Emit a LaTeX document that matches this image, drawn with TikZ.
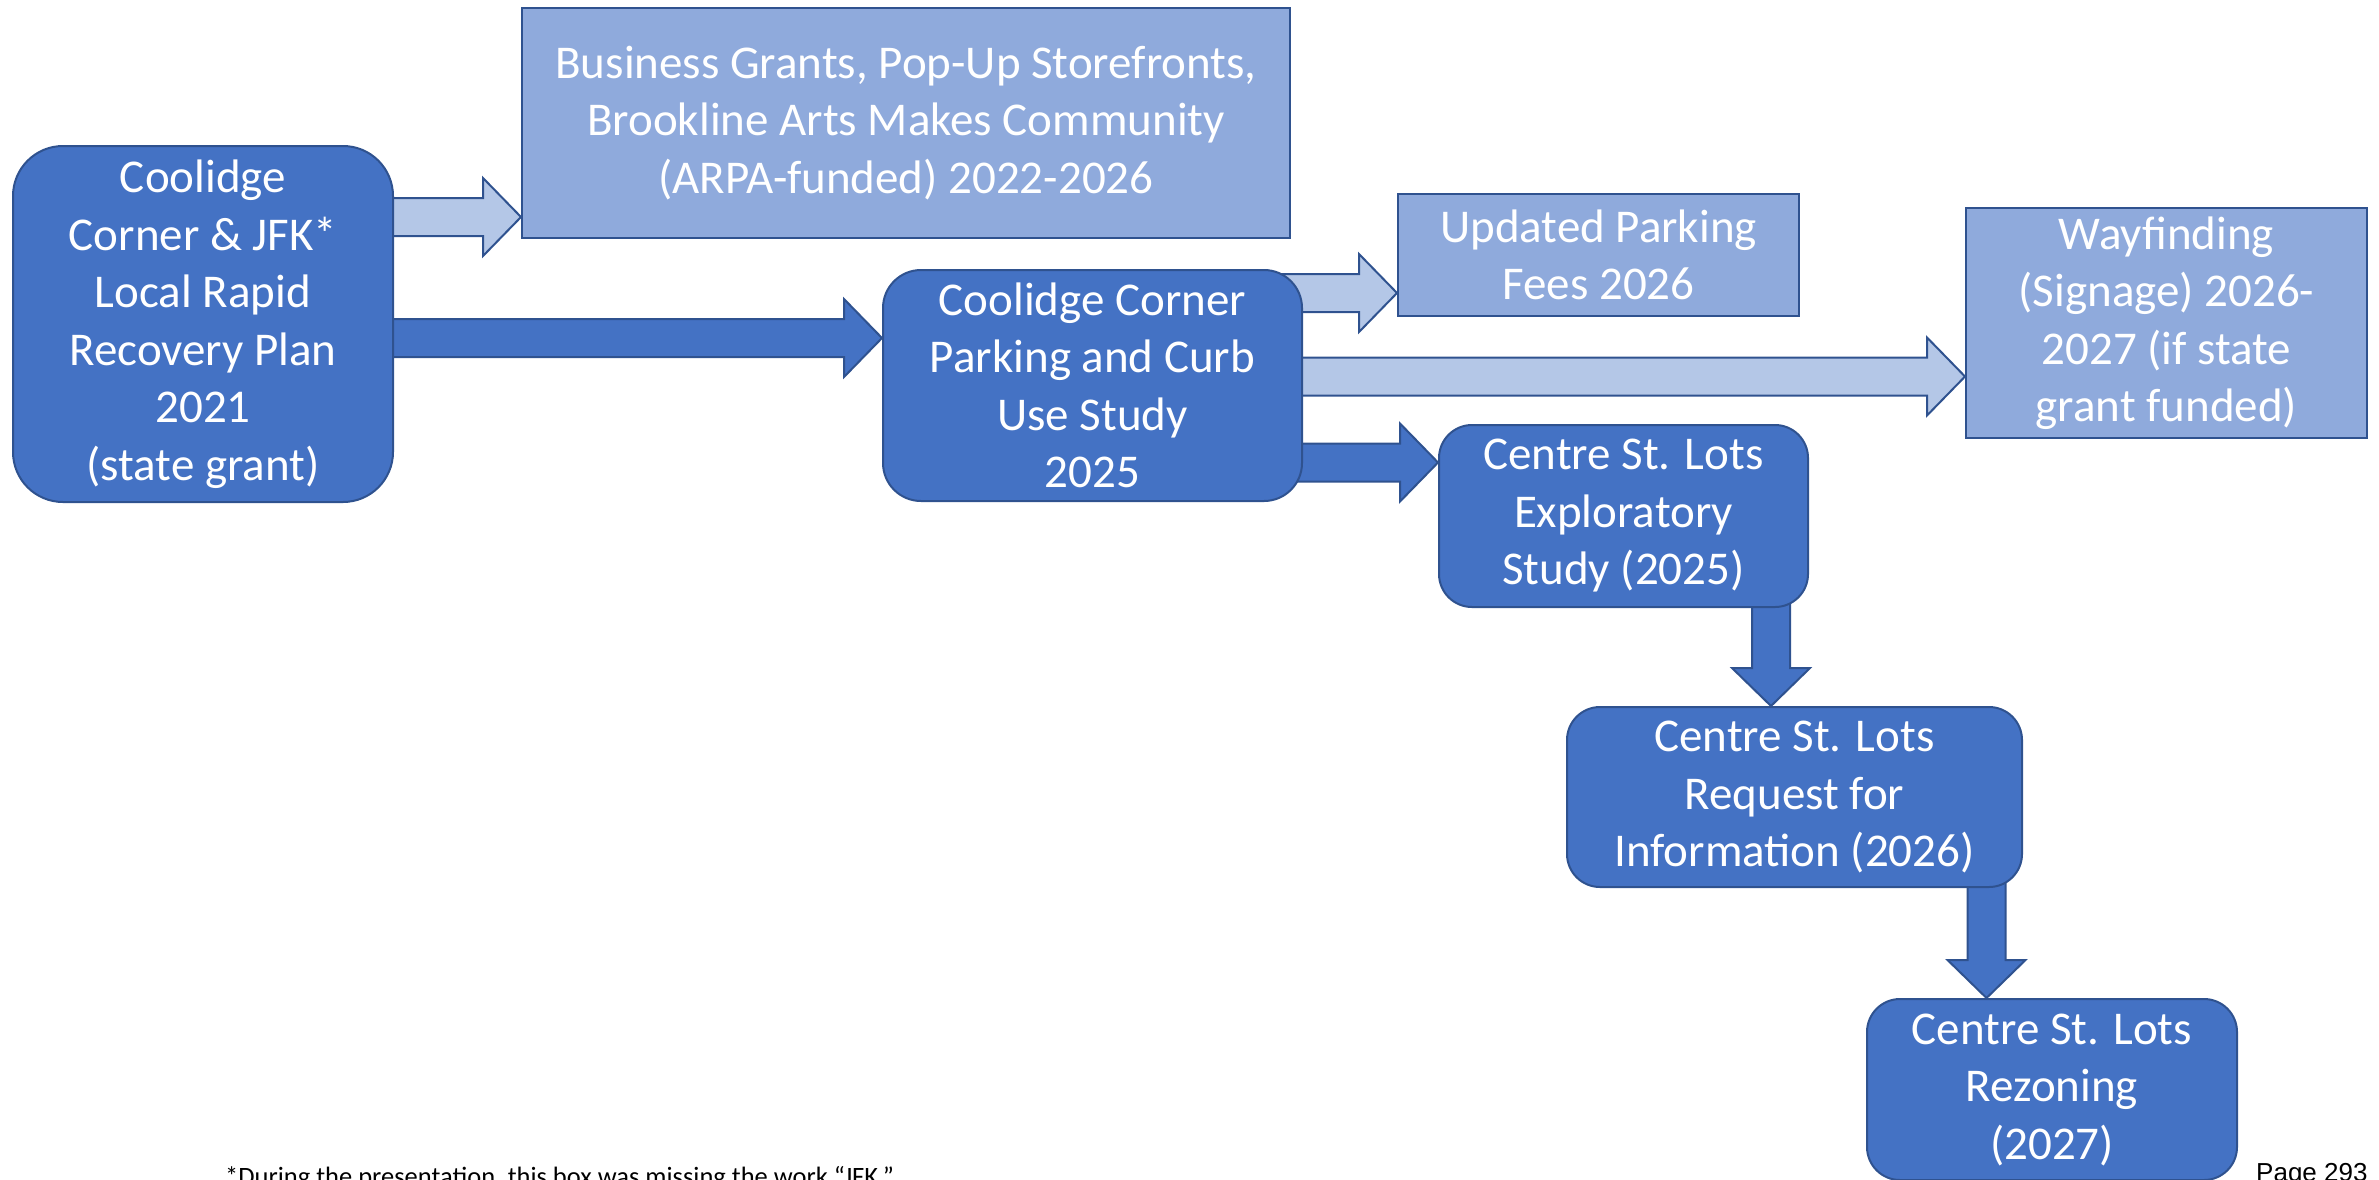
\documentclass[tikz,border=0pt]{standalone}
\usepackage{fontspec}
\setmainfont{Carlito}
\newfontfamily\pagefont{Liberation Sans}
\usepackage{xcolor}
\usetikzlibrary{calc,backgrounds}
\definecolor{planblue}{HTML}{4472C4}
\definecolor{projblue}{HTML}{8FAADC}
\definecolor{paleblue}{HTML}{B4C7E7}
\definecolor{edgeblue}{HTML}{2F528F}
\tikzset{
  plan/.style={ % dark rounded box: a plan or a study
    draw=edgeblue, line width=2pt, rectangle,
    rounded corners=33pt, fill=planblue,
    inner sep=0pt, text=white, align=center,
    font=\fontsize{47}{57.5}\selectfont
  },
  project/.style={ % light square box: a project that follows
    draw=edgeblue, line width=2pt, rectangle,
    fill=projblue, inner sep=0pt, text=white, align=center,
    font=\fontsize{47}{57.5}\selectfont
  },
  darkarrow/.style={ % block arrow to a next study
    draw=edgeblue, line width=2pt, fill=planblue, line join=miter
  },
  lightarrow/.style={ % block arrow to a project
    draw=edgeblue, line width=2pt, fill=paleblue, line join=miter
  }
}
% block arrow: #1 style, #2 start (hidden behind a box), #3 tip
\newcommand{\blockarrow}[3]{%
  \coordinate (ba_start) at (#2);
  \coordinate (ba_tip) at (#3);
  \coordinate (ba_neck) at ($(ba_tip)!38pt!(ba_start)$);
  \draw[#1] ($(ba_start)!19pt!90:(ba_tip)$) -- ($(ba_neck)!19pt!90:(ba_tip)$)
    -- ($(ba_neck)!39pt!90:(ba_tip)$) -- (ba_tip)
    -- ($(ba_neck)!39pt!-90:(ba_tip)$) -- ($(ba_neck)!19pt!-90:(ba_tip)$)
    -- ($(ba_start)!19pt!-90:(ba_tip)$) -- cycle;
}

\begin{document}
\begin{tikzpicture}[x=1pt, y=1pt]
    \useasboundingbox (0,0) rectangle (2379,-1179);

    \node[plan, rounded corners=50pt, minimum width=380pt, minimum height=356pt] (llrp) at (203,-324)
      {Coolidge\\Corner \& JFK*\\Local Rapid\\Recovery Plan\\2021\\(state grant)};
    \node[project, minimum width=768pt, minimum height=230pt] (grants) at (906,-123)
      {Business Grants, Pop-Up Storefronts,\\Brookline Arts Makes Community\\(ARPA-funded) 2022-2026};
    \node[plan, rounded corners=38pt, minimum width=419pt, minimum height=231pt] (curb) at (1092.5,-385.5)
      {Coolidge Corner\\Parking and Curb\\Use Study\\2025};
    \node[project, minimum width=401pt, minimum height=122pt] (fees) at (1598.5,-255)
      {Updated Parking\\Fees 2026};
    \node[project, minimum width=401pt, minimum height=230pt] (signs) at (2166.5,-323)
      {Wayfinding\\(Signage) 2026-\\2027 (if state\\grant funded)};
    \node[plan, minimum width=369pt, minimum height=182pt] (explore) at (1623.5,-516)
      {Centre St. Lots\\Exploratory\\Study (2025)};
    \node[plan, minimum width=455pt, minimum height=180pt] (rfi) at (1794.5,-797)
      {Centre St. Lots\\Request for\\Information (2026)};
    \node[plan, minimum width=370pt, minimum height=181pt] (rezone) at (2052,-1089.5)
      {Centre St. Lots\\Rezoning\\(2027)};

    \node[anchor=base west, font=\fontsize{26.5}{30}\selectfont, inner sep=0pt] (note) at (225,-1185)
      {*During the presentation, this box was missing the work “JFK.”};
    \node[anchor=base west, font=\pagefont\fontsize{26}{30}\selectfont, inner sep=0pt] (page) at (2256,-1181)
      {Page 293};

    \begin{pgfonlayer}{background}
      \coordinate (t1) at ($(grants.south west)+(0,22)$);
      \blockarrow{lightarrow}{llrp.center |- t1}{t1}
      \coordinate (t2) at ($(curb.west)+(0,47.5)$);
      \blockarrow{darkarrow}{llrp.center |- t2}{t2}
      \coordinate (t3) at ($(fees.west)+(0,-38)$);
      \blockarrow{lightarrow}{curb.center |- t3}{t3}
      \coordinate (t4) at ($(signs.west)+(0,-53.5)$);
      \blockarrow{lightarrow}{curb.center |- t4}{t4}
      \coordinate (t5) at ($(explore.west)+(0,53.5)$);
      \blockarrow{darkarrow}{curb.center |- t5}{t5}
      \coordinate (t6) at ($(rfi.north)+(-23.5,0)$);
      \blockarrow{darkarrow}{t6 |- explore.center}{t6}
      \coordinate (t7) at ($(rezone.north)+(-65.5,0)$);
      \blockarrow{darkarrow}{t7 |- rfi.center}{t7}
    \end{pgfonlayer}
  \end{tikzpicture}
\end{document}
